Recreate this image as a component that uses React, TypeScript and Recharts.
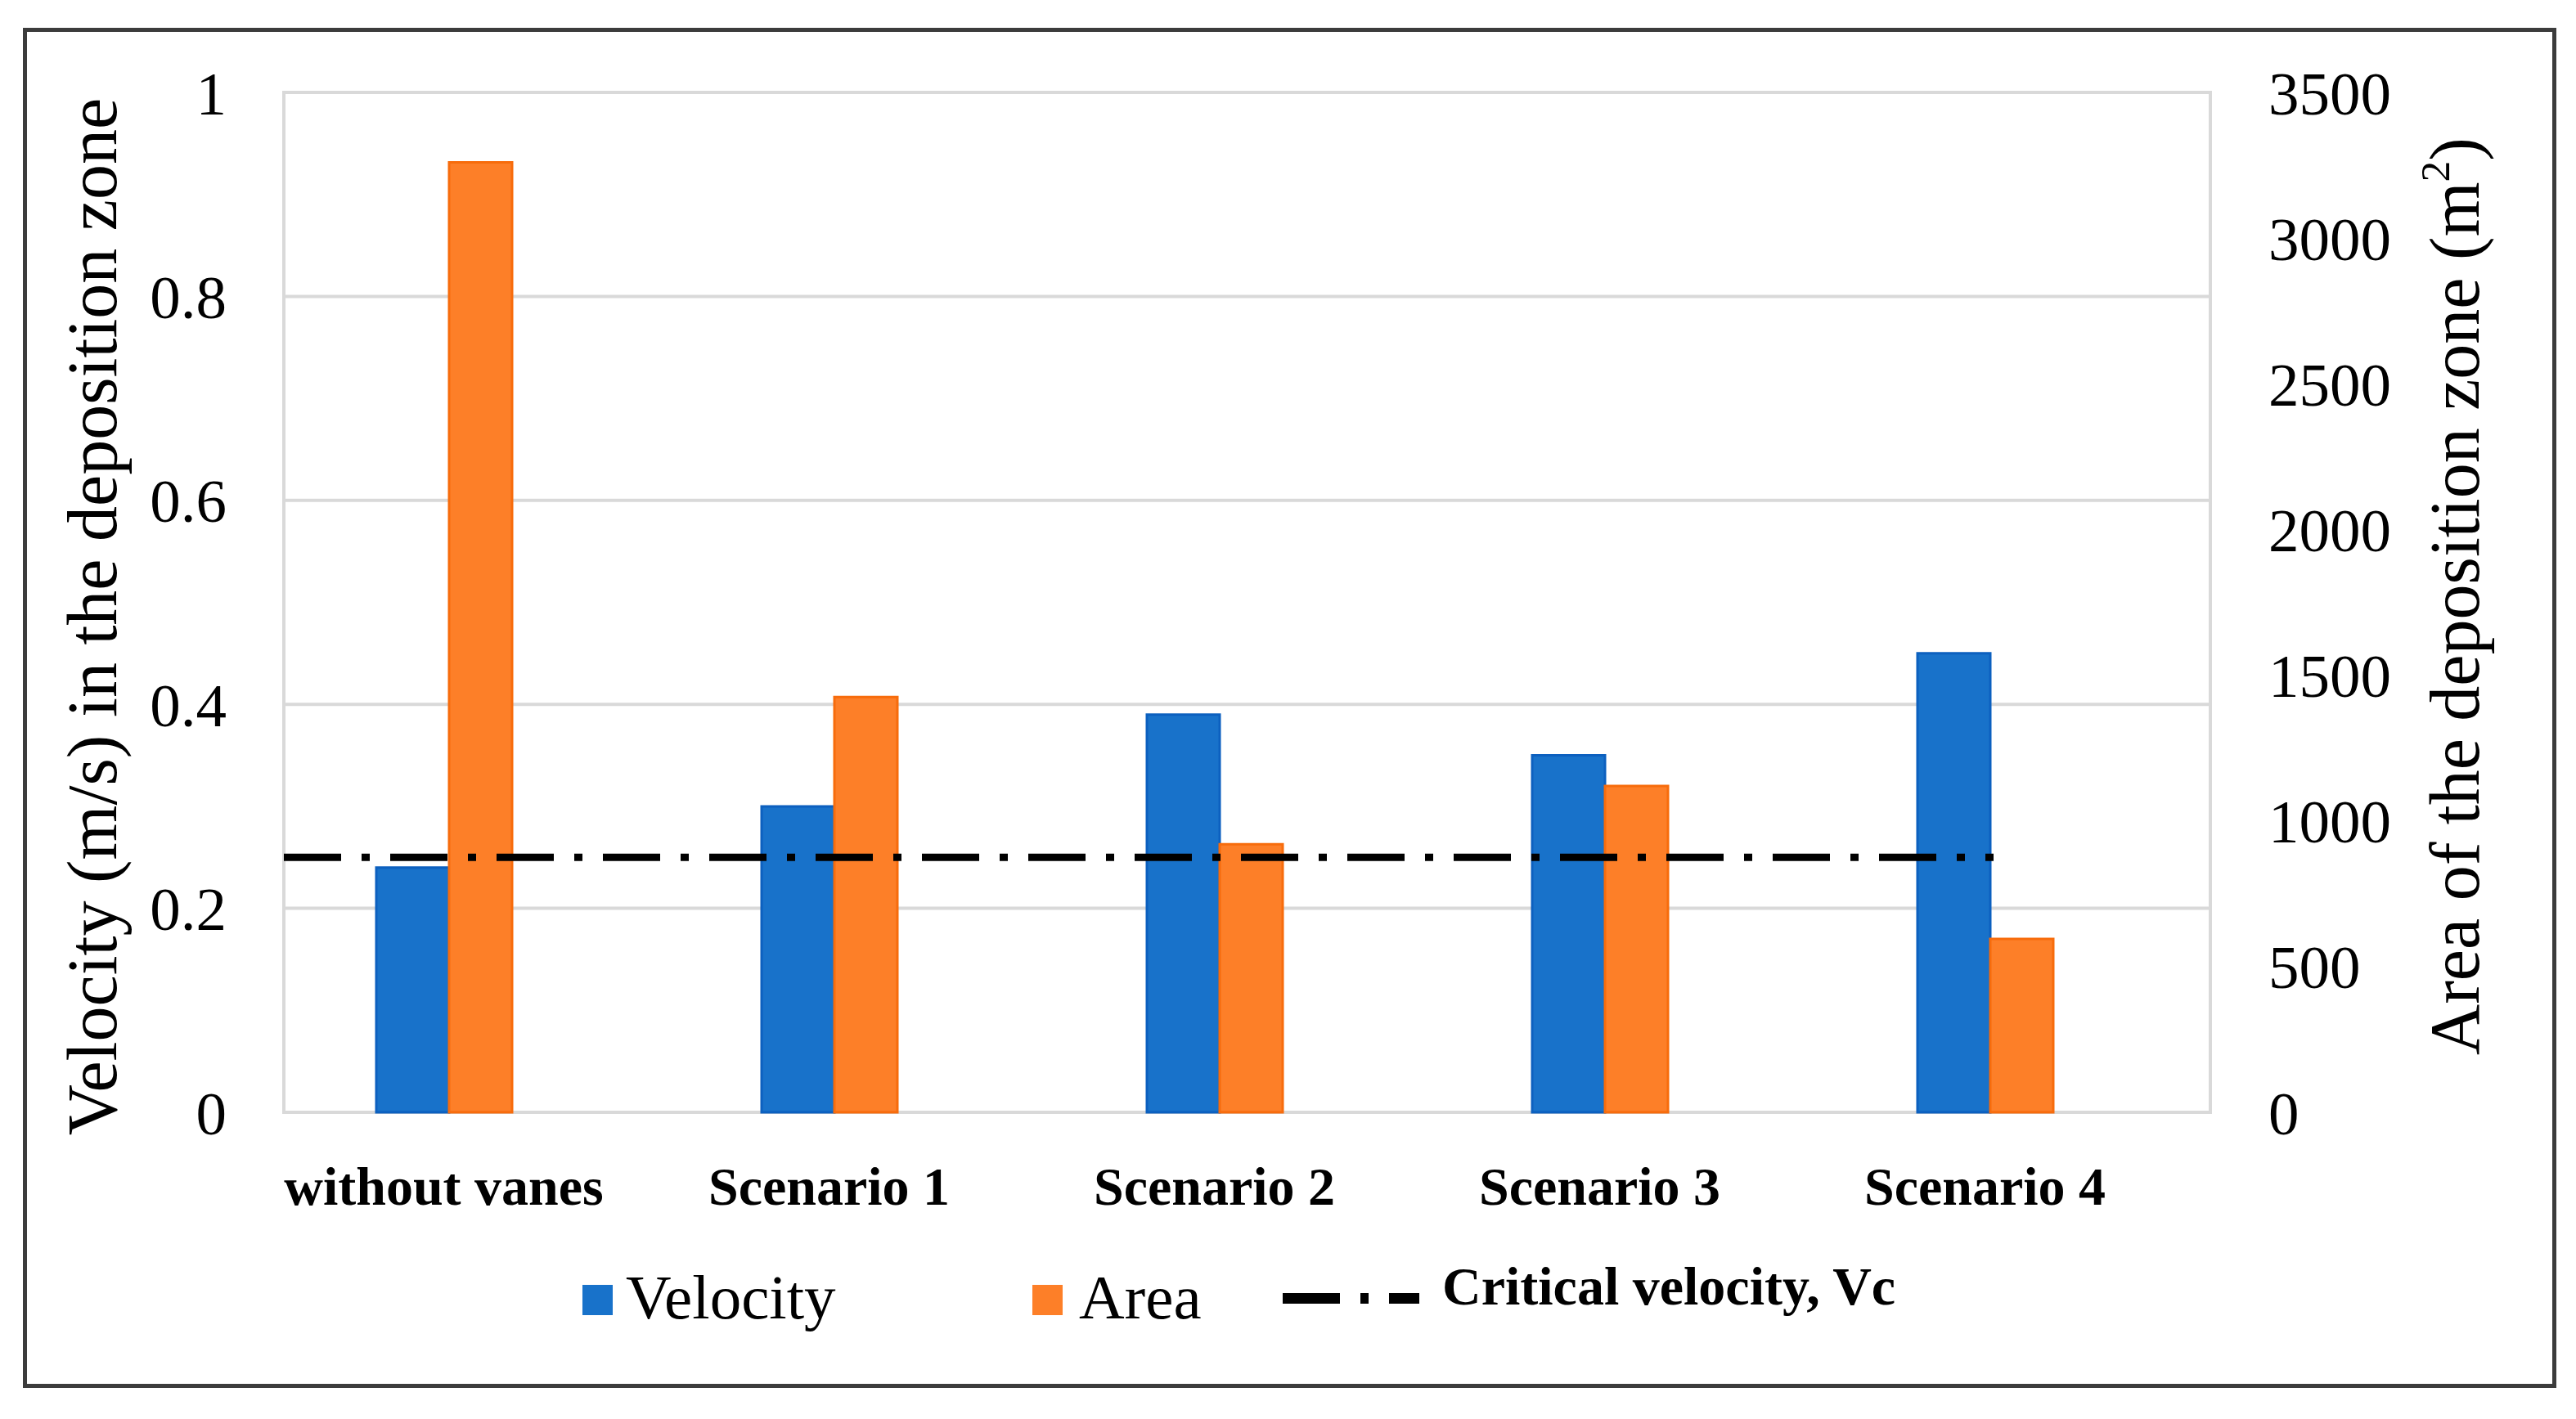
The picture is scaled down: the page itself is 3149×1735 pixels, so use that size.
import React from "react";
import {
    ComposedChart,
    Bar,
    Line,
    XAxis,
    YAxis,
    CartesianGrid,
    Legend,
    ReferenceArea,
} from "recharts";

const categories = ["without vanes", "Scenario 1", "Scenario 2", "Scenario 3", "Scenario 4"];
const velocity = [0.24, 0.3, 0.39, 0.35, 0.45];
const area = [3260, 1425, 920, 1120, 595];
const criticalVelocity = [0.25, 0.25, 0.25, 0.25, 0.25];
const velocityTicks = [0, 0.2, 0.4, 0.6, 0.8, 1];
const areaTicks = [0, 500, 1000, 1500, 2000, 2500, 3000, 3500];

const data = categories.map((category, i) => ({
    category,
    velocity: velocity[i],
    area: area[i],
    critical: criticalVelocity[i],
}));

const FONT = "'Liberation Serif', 'Times New Roman', serif";
const BLUE = "#1872ca";
const ORANGE = "#fd7f28";
const GRID = "#d9d9d9";

function Swatch({ color }: { color: string }) {
    return <div style={{ width: 37, height: 37, background: color, marginTop: 31 }} />;
}

function ChartLegend() {
    return (
        <div style={{ position: "relative", width: 3149, height: 155, fontFamily: FONT, color: "#000" }}>
            <div style={{ display: "flex", alignItems: "flex-start", paddingLeft: 712 }}>
                <div style={{ width: 550, display: "flex", alignItems: "flex-start" }}>
                    <Swatch color={BLUE} />
                    <span style={{ fontSize: 77, lineHeight: "77px", marginTop: 8, marginLeft: 16 }}>Velocity</span>
                </div>
                <div style={{ width: 306, display: "flex", alignItems: "flex-start" }}>
                    <Swatch color={ORANGE} />
                    <span style={{ fontSize: 77, lineHeight: "77px", marginTop: 8, marginLeft: 20 }}>Area</span>
                </div>
                <div style={{ display: "flex", alignItems: "flex-start" }}>
                    <svg width={167} height={13} style={{ marginTop: 41 }}>
                        <line x1={0} y1={6.5} x2={167} y2={6.5} stroke="#000" strokeWidth={13} strokeDasharray="70 25 10 25" />
                    </svg>
                    <span style={{ fontSize: 66, lineHeight: "66px", fontWeight: "bold", marginLeft: 28 }}>
                        Critical velocity, Vc
                    </span>
                </div>
            </div>
        </div>
    );
}

function Title({ cx, cy, children }: { cx: number; cy: number; children: React.ReactNode }) {
    return (
        <div
            style={{
                position: "absolute",
                left: cx,
                top: cy,
                transform: "translate(-50%, -50%) rotate(-90deg)",
                fontFamily: FONT,
                fontSize: 86,
                lineHeight: "86px",
                height: 86,
                whiteSpace: "nowrap",
                color: "#000",
            }}
        >
            {children}
        </div>
    );
}

export default function App() {
    return (
        <div style={{ position: "absolute", left: 0, top: 0, width: 3149, height: 1735, background: "#fff" }}>
            <div
                style={{
                    position: "absolute",
                    left: 28,
                    top: 34,
                    width: 3097,
                    height: 1663,
                    border: "5px solid #3c3c3c",
                    boxSizing: "border-box",
                }}
            />
            <ComposedChart
                width={3149}
                height={1735}
                data={data}
                margin={{ top: 113, right: 47, bottom: 40, left: 77 }}
                barGap={0}
            >
                {/* plain axis spanning the whole plot box, only used for grid + frame */}
                <XAxis xAxisId="frame" dataKey="category" hide />
                <CartesianGrid xAxisId="frame" yAxisId="left" vertical={false} stroke={GRID} strokeWidth={4} />
                <ReferenceArea xAxisId="frame" yAxisId="left" y1={0} y2={1} fill="none" stroke={GRID} strokeWidth={4} />
                <XAxis
                    xAxisId="cat"
                    dataKey="category"
                    padding={{ left: -40, right: 40 }}
                    axisLine={false}
                    tickLine={false}
                    tickSize={0}
                    tickMargin={66}
                    height={180}
                    interval={0}
                    tick={{ fontSize: 66, fontWeight: "bold", fill: "#000", fontFamily: FONT }}
                />
                <XAxis xAxisId="pt" dataKey="category" scale="point" padding={{ left: 0, right: 265 }} hide />
                <YAxis
                    yAxisId="left"
                    domain={[0, 1]}
                    ticks={velocityTicks}
                    width={270}
                    axisLine={false}
                    tickLine={false}
                    tickSize={0}
                    tickMargin={70}
                    tick={{ fontSize: 75, fill: "#000", fontFamily: FONT }}
                />
                <YAxis
                    yAxisId="right"
                    orientation="right"
                    domain={[0, 3500]}
                    ticks={areaTicks}
                    width={400}
                    axisLine={false}
                    tickLine={false}
                    tickSize={0}
                    tickMargin={71}
                    tick={{ fontSize: 75, fill: "#000", fontFamily: FONT }}
                />
                <Bar
                    xAxisId="cat"
                    yAxisId="left"
                    dataKey="velocity"
                    name="Velocity"
                    fill={BLUE}
                    stroke="#0c60bf"
                    strokeWidth={3}
                    barSize={89}
                    isAnimationActive={false}
                />
                <Bar
                    xAxisId="cat"
                    yAxisId="right"
                    dataKey="area"
                    name="Area"
                    fill={ORANGE}
                    stroke="#f76c0c"
                    strokeWidth={3}
                    barSize={77}
                    isAnimationActive={false}
                />
                <Line
                    xAxisId="pt"
                    yAxisId="left"
                    dataKey="critical"
                    name="Critical velocity, Vc"
                    type="linear"
                    stroke="#000"
                    strokeWidth={9}
                    strokeDasharray="70 25 10 25"
                    dot={false}
                    activeDot={false}
                    isAnimationActive={false}
                />
                <Legend
                    content={() => <ChartLegend />}
                    wrapperStyle={{ top: 1540, left: 0, width: 3149, height: 155 }}
                />
            </ComposedChart>
            <Title cx={113} cy={754}>Velocity (m/s) in the deposition zone</Title>
            <Title cx={3001} cy={729}>
                Area of the deposition zone (m
                <span style={{ fontSize: "0.6em", position: "relative", top: "-0.7em" }}>2</span>)
            </Title>
        </div>
    );
}
